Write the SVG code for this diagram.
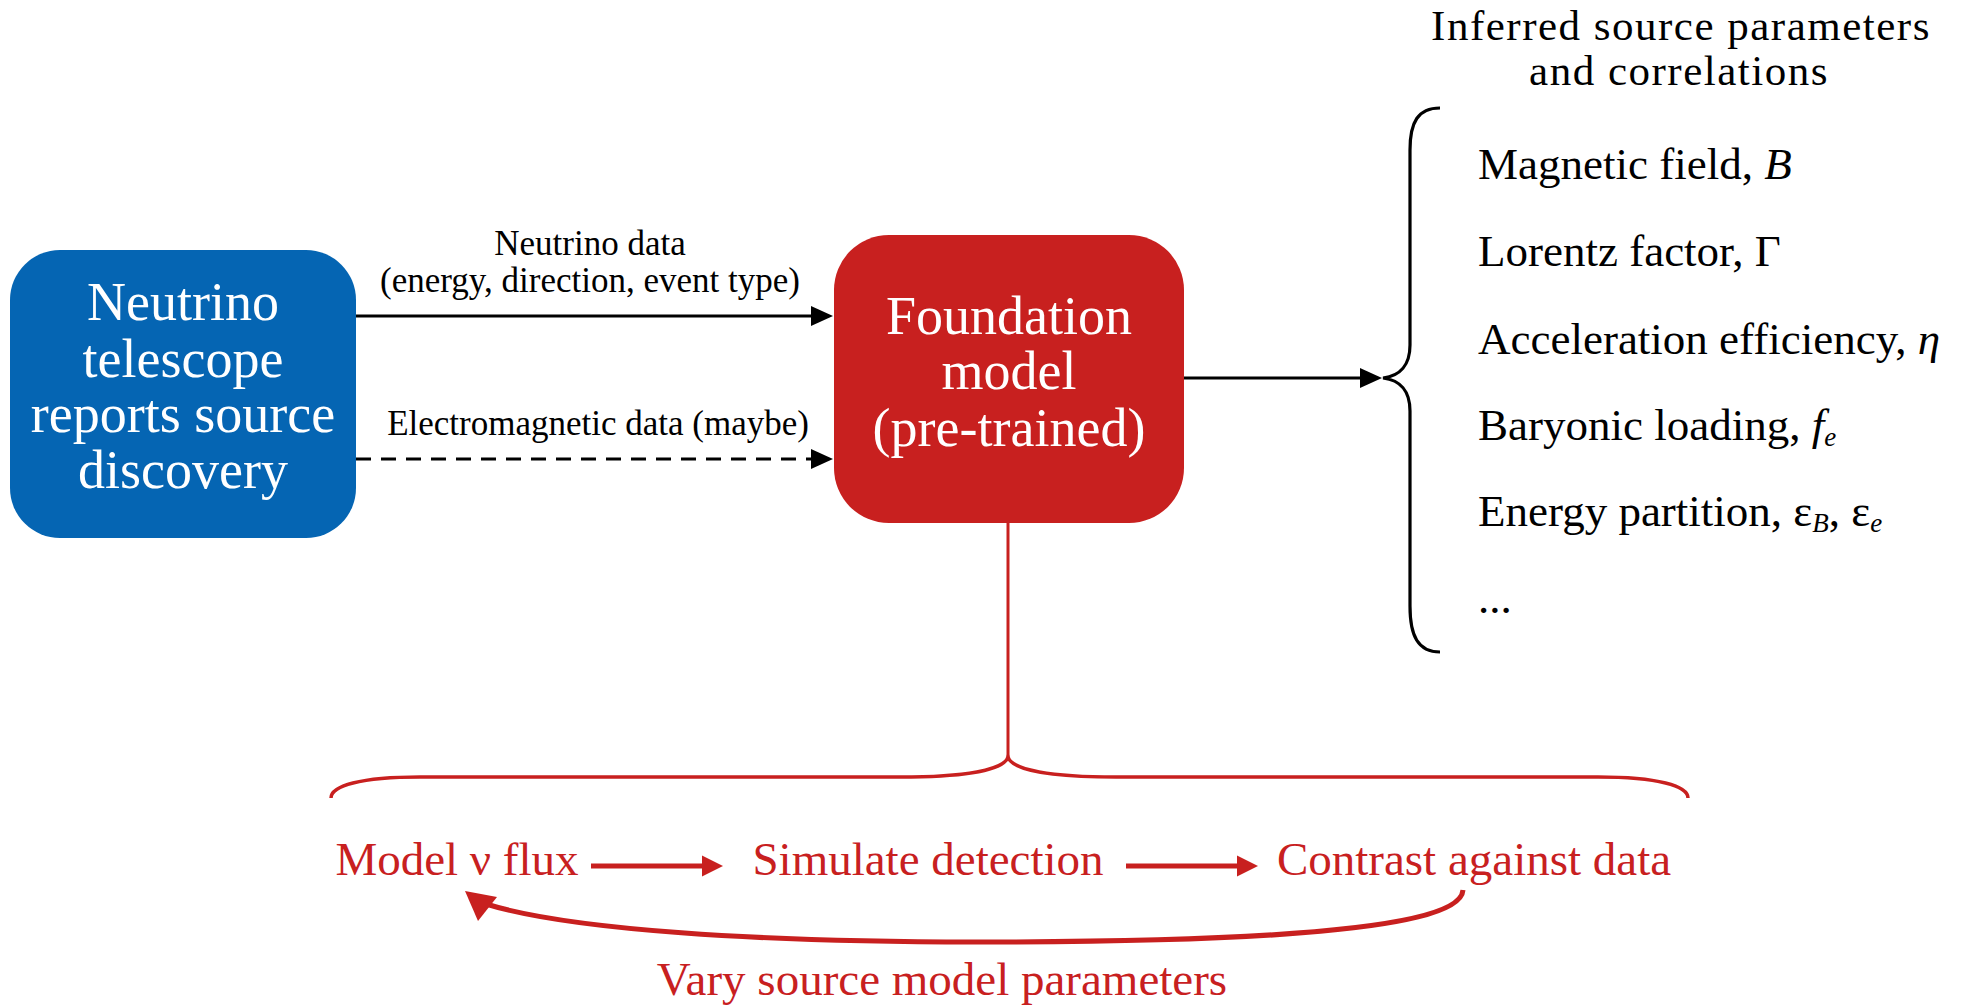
<svg xmlns="http://www.w3.org/2000/svg" width="1961" height="1008" viewBox="0 0 1961 1008">
<style>
text{font-family:"Liberation Serif","Times New Roman",serif;}
.box-txt{fill:#fff;font-size:54px;text-anchor:middle;}
.lbl{fill:#000;font-size:35px;text-anchor:middle;}
.item{fill:#000;font-size:45px;}
.title{fill:#000;font-size:43px;letter-spacing:1.5px;text-anchor:middle;}
.red-txt{fill:#C8201F;font-size:47px;text-anchor:middle;}
.blk{stroke:#000;stroke-width:3.2;fill:none;}
.red{stroke:#C8201F;fill:none;}
</style>
<defs>
<marker id="ah-black" markerUnits="userSpaceOnUse" markerWidth="24" markerHeight="24" viewBox="0 -12 24 24" refX="2" refY="0" orient="auto">
<path d="M0,-10 L22,0 L0,10 z" fill="#000" stroke="none"/>
</marker>
<marker id="ah-red" markerUnits="userSpaceOnUse" markerWidth="26" markerHeight="26" viewBox="0 -13 26 26" refX="2" refY="0" orient="auto">
<path d="M0,-10.5 L21,0 L0,10.5 z" fill="#C8201F" stroke="none"/>
</marker>
</defs>

<g id="node-telescope">
<rect x="10" y="250" width="346" height="288" rx="50" ry="50" fill="#0565B3"/>
<text class="box-txt" x="183" y="320">Neutrino</text>
<text class="box-txt" x="183" y="377">telescope</text>
<text class="box-txt" x="183" y="432">reports source</text>
<text class="box-txt" x="183" y="488">discovery</text>
</g>

<g id="node-foundation">
<rect x="834" y="235" width="350" height="288" rx="55" ry="55" fill="#C8201F"/>
<text class="box-txt" x="1009" y="334">Foundation</text>
<text class="box-txt" x="1009" y="389">model</text>
<text class="box-txt" x="1009" y="446">(pre-trained)</text>
</g>

<g id="node-parameters">
<text class="title"><tspan x="1681" y="40">Inferred source parameters</tspan><tspan x="1679" y="85">and correlations</tspan></text>
<path class="blk" d="M 1440 108 C 1418 108, 1410 122, 1410 150 L 1410 345 C 1410 365, 1400 376, 1383 378 C 1400 380, 1410 391, 1410 411 L 1410 606 C 1410 636, 1418 652, 1440 652"/>
<text class="item" x="1478" y="179">Magnetic field, <tspan font-style="italic">B</tspan></text>
<text class="item" x="1478" y="266">Lorentz factor, Γ</text>
<text class="item" x="1478" y="354">Acceleration efficiency, <tspan font-style="italic">η</tspan></text>
<text class="item" x="1478" y="440">Baryonic loading, <tspan font-style="italic">f</tspan><tspan font-style="italic" font-size="27px" dy="6">e</tspan></text>
<text class="item" x="1478" y="526">Energy partition, ε<tspan font-style="italic" font-size="27px" dy="6">B</tspan><tspan dy="-6">, ε</tspan><tspan font-style="italic" font-size="27px" dy="6">e</tspan></text>
<text class="item" x="1478" y="613">...</text>
</g>

<g id="node-loop">
<text class="red-txt" x="457" y="875">Model ν flux</text>
<text class="red-txt" x="928" y="875">Simulate detection</text>
<text class="red-txt" x="1474" y="875">Contrast against data</text>
<text class="red-txt" x="942" y="995">Vary source model parameters</text>
</g>

<g id="connectors">
<line class="blk" x1="356" y1="316" x2="813" y2="316" marker-end="url(#ah-black)"/>
<text class="lbl" x="590" y="255">Neutrino data</text>
<text class="lbl" x="590" y="292">(energy, direction, event type)</text>
<line class="blk" x1="356" y1="459" x2="813" y2="459" stroke-dasharray="15 10" marker-end="url(#ah-black)"/>
<text class="lbl" x="598" y="435">Electromagnetic data (maybe)</text>
<line class="blk" x1="1184" y1="378" x2="1362" y2="378" marker-end="url(#ah-black)"/>

<line class="red" stroke-width="3" x1="1008" y1="523" x2="1008" y2="759"/>
<path class="red" stroke-width="3.5" d="M 331 798 C 331 786, 360 777, 420 777 L 900 777 C 965 777, 1004 770, 1008 757 C 1012 770, 1051 777, 1116 777 L 1598 777 C 1658 777, 1688 786, 1688 798"/>
<line class="red" stroke-width="5" x1="591" y1="866" x2="704" y2="866" marker-end="url(#ah-red)"/>
<line class="red" stroke-width="5" x1="1126" y1="866" x2="1239" y2="866" marker-end="url(#ah-red)"/>
<path class="red" stroke-width="5" d="M 1463 890 C 1460 935, 1200 942, 975 942 C 760 942, 570 930, 486 904"/>
<polygon points="465,891 478,921 497,897" fill="#C8201F"/>
</g>
</svg>
